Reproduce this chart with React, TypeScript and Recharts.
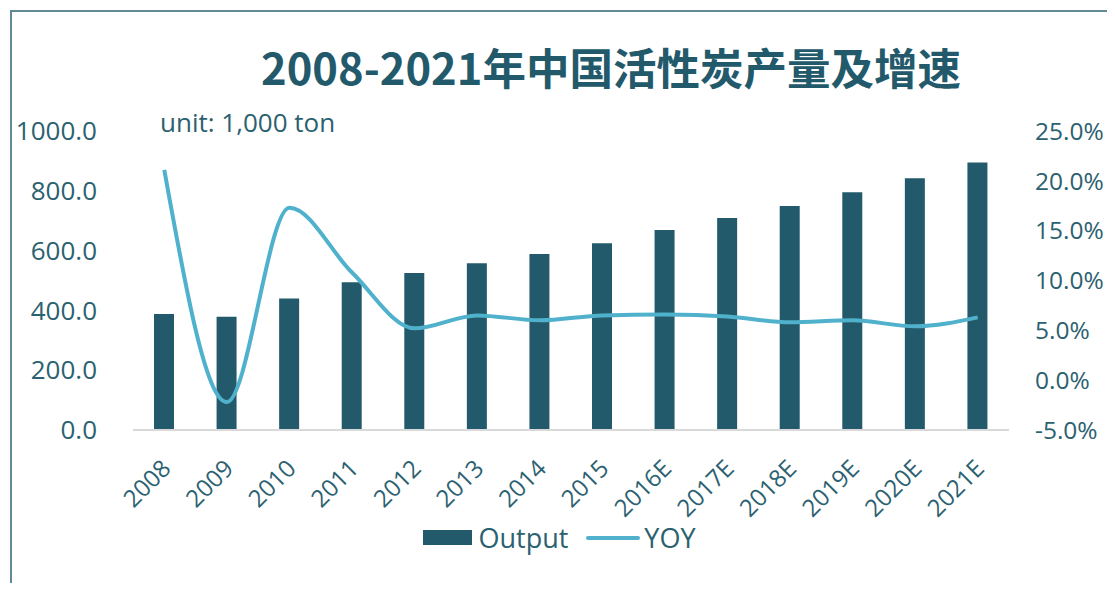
import React from 'react';
import { ComposedChart, Bar, Line, XAxis, YAxis, Legend } from 'recharts';

const years = ['2008', '2009', '2010', '2011', '2012', '2013', '2014', '2015', '2016E', '2017E', '2018E', '2019E', '2020E', '2021E'];
const output = [388, 379, 440, 494, 525, 558, 589, 625, 669, 709, 749, 795, 842, 895];
const yoy = [21.1, -2.2, 17.3, 10.8, 5.2, 6.5, 6.0, 6.5, 6.6, 6.4, 5.8, 6.0, 5.4, 6.3];
const leftTicks = [0, 200, 400, 600, 800, 1000];
const rightTicks = [-5, 0, 5, 10, 15, 20, 25];

const BAR = '#235a6b';
const LINE = '#4fb1cc';
const TEXT = '#2b6170';
const FONT = '"Open Sans", "Noto Sans", sans-serif';

const data = years.map((year, i) => ({ year, Output: output[i], YOY: yoy[i] }));

function XTick({ x, y, payload }: any) {
  return (
    <g transform={`translate(${x + 8},${y + 38})`}>
      <text
        x={0}
        y={0}
        textAnchor="end"
        transform="rotate(-45)"
        fill={TEXT}
        fontSize={24}
        fontFamily={FONT}
      >
        {payload.value}
      </text>
    </g>
  );
}

function LegendContent() {
  return (
    <div
      style={{
        display: 'flex',
        justifyContent: 'center',
        alignItems: 'center',
        fontFamily: FONT,
        fontSize: 27,
        color: TEXT,
        paddingLeft: 4,
        marginTop: 4,
      }}
    >
      <span style={{ width: 49, height: 15, background: BAR, display: 'inline-block', marginRight: 6 }} />
      <span style={{ marginRight: 18 }}>Output</span>
      <span style={{ width: 54, height: 4, borderRadius: 2, background: LINE, display: 'inline-block', marginRight: 4 }} />
      <span>YOY</span>
    </div>
  );
}

export default function App() {
  return (
    <div style={{ margin: -8, width: 1115, height: 591, position: 'relative', background: '#fff', overflow: 'hidden' }}>
      {/* frame */}
      <div
        style={{
          position: 'absolute',
          left: 10,
          top: 10,
          width: 1200,
          height: 700,
          borderLeft: '2px solid #5f8a96',
          borderTop: '2px solid #5f8a96',
        }}
      />
      <div
        style={{
          position: 'absolute',
          top: 40,
          left: 0,
          width: 1222,
          textAlign: 'center',
          fontFamily: '"Noto Sans CJK SC", sans-serif',
          fontWeight: 700,
          fontSize: 43.5,
          lineHeight: '54px',
          color: BAR,
        }}
      >
        2008-2021年中国活性炭产量及增速
      </div>
      <div
        style={{
          position: 'absolute',
          top: 106,
          left: 160,
          fontFamily: FONT,
          fontSize: 26,
          lineHeight: '32px',
          color: TEXT,
        }}
      >
        unit: 1,000 ton
      </div>
      <div style={{ position: 'absolute', left: 0, top: 0 }}>
        <ComposedChart
          width={1115}
          height={591}
          data={data}
          margin={{ top: 131, right: 0, bottom: 36, left: 0 }}
          barSize={20}
        >
          <XAxis
            dataKey="year"
            tick={<XTick />}
            tickLine={false}
            tickSize={0}
            axisLine={{ stroke: '#d9d9d9', strokeWidth: 2 }}
            height={85}
            interval={0}
          />
          <YAxis
            yAxisId="left"
            domain={[0, 1000]}
            ticks={leftTicks}
            width={133}
            axisLine={false}
            tickLine={false}
            tickMargin={30}
            tickFormatter={(v: number) => v.toFixed(1)}
            tick={{ fill: TEXT, fontSize: 26, fontFamily: FONT }}
          />
          <YAxis
            yAxisId="right"
            orientation="right"
            domain={[-5, 25]}
            ticks={rightTicks}
            width={106}
            axisLine={false}
            tickLine={false}
            tickMargin={20}
            tickFormatter={(v: number) => `${v.toFixed(1)}%`}
            tick={{ fill: TEXT, fontSize: 24.5, fontFamily: FONT, textAnchor: 'start' }}
          />
          <Legend verticalAlign="bottom" height={40} content={<LegendContent />} />
          <Bar yAxisId="left" dataKey="Output" fill={BAR} isAnimationActive={false} />
          <Line
            yAxisId="right"
            dataKey="YOY"
            type="monotone"
            stroke={LINE}
            strokeWidth={4}
            dot={false}
            isAnimationActive={false}
          />
        </ComposedChart>
      </div>
    </div>
  );
}
